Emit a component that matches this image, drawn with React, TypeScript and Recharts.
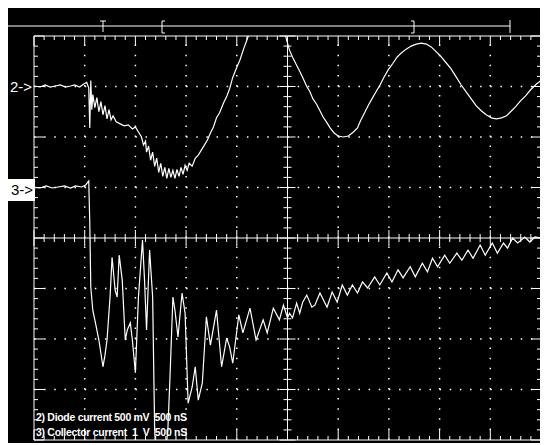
import React from 'react';
import { LineChart, Line, XAxis, YAxis, ReferenceLine } from 'recharts';

// Channel 2: diode current, 500 mV/div, ground marker at +3 div
const diodeTimeNs = [
  0, 60, 110, 160, 210, 260, 310, 360, 400, 450, 490, 520, 540,
  550, 560, 570, 580, 600, 620, 640,
  660, 680, 700, 720, 740, 760, 780,
  810, 850, 890, 930, 970, 1000, 1030,
  1060, 1080, 1100, 1110, 1130, 1150, 1170,
  1190, 1210, 1230, 1250, 1270, 1290, 1310,
  1330, 1350, 1370, 1390, 1410, 1430, 1450,
  1470, 1490, 1510, 1530, 1560, 1590, 1620,
  1650, 1680, 1710, 1740, 1770, 1800, 1830,
  1870, 1900, 1930, 1960, 2000, 2030, 2070,
  2110, 2150, 2210, 2280, 2350, 2420, 2470,
  2500, 2520, 2550, 2590, 2620, 2650, 2690,
  2720, 2750, 2790, 2820, 2850, 2890, 2920,
  2960, 3000, 3050, 3100, 3150, 3190, 3220,
  3260, 3300, 3340, 3380, 3410, 3450, 3490,
  3540, 3580, 3620, 3670, 3720, 3770, 3820,
  3870, 3920, 3960, 4010, 4060, 4110, 4160,
  4210, 4260, 4310, 4360, 4410, 4460, 4510,
  4560, 4610, 4660, 4700, 4750, 4800, 4850,
  4900, 4950, 5000,
];
const diodeMilliVolts = [
  5, -5, 15, -5, 5, 15, -5, 5, 15, -5, 25, 40, -15,
  -410, 60, -230, -80, -210, -110, -250,
  -150, -280, -190, -320, -230, -330, -290,
  -350, -370, -390, -380, -420, -400, -450,
  -500, -580, -540, -650, -590, -730, -650,
  -790, -710, -850, -760, -890, -800, -910,
  -810, -900, -830, -910, -820, -890, -800,
  -870, -780, -830, -760, -790, -710, -680,
  -630, -580, -530, -460, -400, -310, -260,
  -160, -100, -20, 90, 190, 260, 380,
  490, 580, 660, 710, 710, 640, 540,
  430, 360, 290, 210, 150, 90, 0,
  -50, -120, -180, -240, -300, -360, -410,
  -460, -490, -500, -490, -450, -410, -340,
  -260, -180, -110, -40, 10, 90, 160,
  230, 290, 330, 370, 400, 420, 430,
  420, 390, 350, 300, 240, 180, 100,
  20, -50, -120, -190, -240, -280, -310,
  -320, -310, -290, -250, -200, -140, -90,
  -30, 20, 60,
];

// Channel 3: collector current, 1 V/div, ground marker at +1 div
const collectorTimeNs = [
  0, 60, 120, 180, 240, 300, 360, 410, 470, 510, 540, 550,
  560, 580, 610, 640, 680, 700, 720,
  750, 770, 800, 820, 840, 870, 900,
  920, 950, 970, 1000, 1030, 1070, 1090,
  1110, 1140, 1170, 1190, 1210, 1240, 1270,
  1300, 1320, 1340, 1370, 1390, 1420, 1460,
  1490, 1520, 1560, 1590, 1620, 1660, 1700,
  1740, 1800, 1850, 1900, 1930, 1960, 2020,
  2060, 2130, 2190, 2260, 2300, 2360, 2420,
  2460, 2500, 2520, 2550, 2590, 2620, 2650,
  2690, 2740, 2770, 2820, 2890, 2940, 2990,
  3040, 3090, 3140, 3190, 3240, 3290, 3360,
  3410, 3480, 3530, 3590, 3640, 3710, 3760,
  3830, 3880, 3930, 3980, 4050, 4100, 4170,
  4220, 4280, 4330, 4400, 4450, 4520, 4570,
  4630, 4670, 4720, 4770, 4840, 4890, 4940,
  5000,
];
const collectorVolts = [
  0, -0.01, 0.03, -0.01, 0.01, 0.03, -0.01, 0.03, 0.01, 0.05, 0.13, -0.7,
  -1.97, -2.43, -2.72, -3.02, -3.55, -3.32, -3.02,
  -2.17, -1.38, -2.03, -2.17, -1.34, -1.83, -3.02,
  -2.82, -2.68, -3.02, -3.67, -2.17, -1.04, -1.83,
  -2.82, -1.24, -2.17, -4.8, -5.6, -5.4, -5.6,
  -5.2, -4.8, -3.81, -2.17, -2.43, -2.96, -2.09,
  -2.49, -4.27, -3.95, -3.55, -4.21, -3.87, -2.56,
  -3.12, -2.43, -3.55, -2.98, -3.16, -3.48, -2.52,
  -2.88, -2.39, -3.02, -2.62, -2.88, -2.39, -2.62,
  -2.33, -2.58, -2.49, -2.58, -2.29, -2.49, -2.27,
  -2.13, -2.37, -2.33, -2.09, -2.37, -2.07, -2.27,
  -1.93, -2.13, -1.93, -2.09, -1.87, -1.99, -1.77,
  -1.93, -1.69, -1.87, -1.63, -1.79, -1.57, -1.77,
  -1.5, -1.67, -1.4, -1.57, -1.34, -1.5, -1.3,
  -1.44, -1.24, -1.4, -1.14, -1.34, -1.1, -1.3,
  -1.1, -1.2, -1.0, -1.1, -0.98, -1.08, -0.98,
  -1.0,
];

const CH2_OFFSET_DIV = 3;
const CH2_MV_PER_DIV = 500;
const CH3_OFFSET_DIV = 1;
const CH3_V_PER_DIV = 1;

const diodeData = diodeTimeNs.map((t, i) => ({ t, v: CH2_OFFSET_DIV + diodeMilliVolts[i] / CH2_MV_PER_DIV }));
const collectorData = collectorTimeNs.map((t, i) => ({ t, v: CH3_OFFSET_DIV + collectorVolts[i] / CH3_V_PER_DIV }));

const W = 540;
const H = 435;
const MARGIN = { top: 28, right: 7, bottom: 3, left: 26 };
const PLOT_W = W - MARGIN.left - MARGIN.right;
const PLOT_H = H - MARGIN.top - MARGIN.bottom;
const T_MAX = 5000;
const NS_PER_PX = T_MAX / PLOT_W;
const DIV_PER_PX = 8 / PLOT_H;

// page px (relative to chart box) -> data units, for screen decorations only
const xd = (px: number) => (px - MARGIN.left) * NS_PER_PX;
const yd = (py: number) => 4 - (py - MARGIN.top) * DIV_PER_PX;

type Seg = [number, number, number, number];
const ticks: Seg[] = [];
for (let i = 0; i <= 50; i++) {
  const t = i * 100;
  const major = i % 5 === 0;
  const b = (major ? 10 : 4) * DIV_PER_PX;
  const c = (major ? 8 : 4) * DIV_PER_PX;
  ticks.push([t, 4, t, 4 - b]);
  ticks.push([t, -4, t, -4 + b]);
  ticks.push([t, -c, t, c]);
}
for (let j = 0; j <= 40; j++) {
  const v = Math.round((-4 + j * 0.2) * 100) / 100;
  const major = j % 5 === 0;
  const b = (major ? 10 : 4) * NS_PER_PX;
  const c = (major ? 8 : 4) * NS_PER_PX;
  ticks.push([0, v, b, v]);
  ticks.push([T_MAX, v, T_MAX - b, v]);
  ticks.push([2500 - c, v, 2500 + c, v]);
}

// cursor bar above the graticule (chart-box pixels)
const cursorSegs: Seg[] = [
  [0, 18, 502, 18],
  [92, 13, 98, 13], [95, 13, 95, 24],
  [154, 13, 154, 25], [154, 13, 157, 13], [154, 25, 157, 25],
  [406, 13, 406, 25], [403, 13, 406, 13], [403, 25, 406, 25],
  [502, 12, 502, 25],
];

const gridX = [500, 1000, 1500, 2000, 3000, 3500, 4000, 4500];
const gridY = [-3, -2, -1, 1, 2, 3];

const seg = (s: Seg) => [{ x: s[0], y: s[1] }, { x: s[2], y: s[3] }];

const label: React.CSSProperties = {
  position: 'absolute',
  fontFamily: '"Liberation Sans", Arial, sans-serif',
  whiteSpace: 'pre',
};

const footer: React.CSSProperties = {
  ...label,
  left: 28,
  color: '#fff',
  fontSize: 10.5,
  fontWeight: 'bold',
  letterSpacing: -0.3,
  lineHeight: '14px',
};

const App: React.FC = () => {
  return (
    <div style={{ position: 'relative', width: W, height: H, background: '#000' }}>
      <LineChart width={W} height={H} margin={MARGIN}>
        <XAxis type="number" dataKey="t" domain={[0, T_MAX]} hide allowDataOverflow />
        <YAxis type="number" domain={[-4, 4]} hide allowDataOverflow />
        {gridX.map((x) => (
          <ReferenceLine key={`gx${x}`} x={x} stroke="#fff" strokeWidth={1.5} strokeDasharray="1.5 8.6" />
        ))}
        {gridY.map((y) => (
          <ReferenceLine key={`gy${y}`} y={y} stroke="#fff" strokeWidth={1.5} strokeDasharray="1.5 8.64" />
        ))}
        <ReferenceLine x={0} stroke="#fff" />
        <ReferenceLine x={T_MAX} stroke="#fff" />
        <ReferenceLine y={4} stroke="#fff" />
        <ReferenceLine y={-4} stroke="#fff" />
        <ReferenceLine x={2500} stroke="#fff" />
        <ReferenceLine y={0} stroke="#fff" />
        {ticks.map((s, i) => (
          <ReferenceLine key={`tk${i}`} segment={seg(s)} stroke="#fff" ifOverflow="visible" />
        ))}
        {cursorSegs.map((s, i) => (
          <ReferenceLine
            key={`cs${i}`}
            segment={seg([xd(s[0]), yd(s[1]), xd(s[2]), yd(s[3])])}
            stroke="#fff"
            ifOverflow="visible"
          />
        ))}
        <Line data={diodeData} dataKey="v" stroke="#fff" strokeWidth={1.2} dot={false} isAnimationActive={false} type="linear" />
        <Line data={collectorData} dataKey="v" stroke="#fff" strokeWidth={1.2} dot={false} isAnimationActive={false} type="linear" />
      </LineChart>
      <div style={{ ...label, left: 2, top: 70, color: '#fff', fontSize: 15, lineHeight: '17px' }}>2-&gt;</div>
      <div
        style={{
          ...label, left: 0, top: 171, width: 27, height: 22, background: '#fff', color: '#000',
          fontSize: 15, lineHeight: '22px', paddingLeft: 3, boxSizing: 'border-box',
        }}
      >
        3-&gt;
      </div>
      <div style={{ ...footer, top: 402 }}>{'2) Diode current 500 mV  500 nS'}</div>
      <div style={{ ...footer, top: 417 }}>{'3) Collector current  1  V  500 nS'}</div>
    </div>
  );
};

export default App;
